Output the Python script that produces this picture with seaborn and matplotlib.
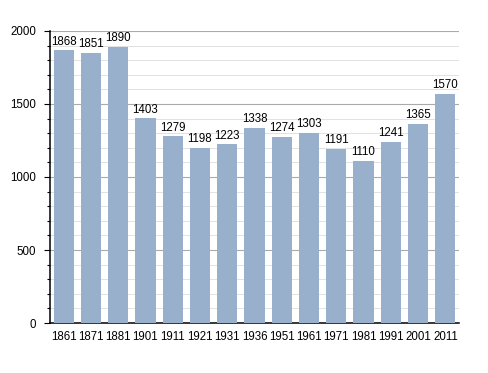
import pandas as pd
import matplotlib
matplotlib.use("Agg")
import matplotlib.pyplot as plt
import seaborn as sns
from matplotlib.ticker import MultipleLocator

# Data
years = ["1861", "1871", "1881", "1901", "1911", "1921", "1931", "1936",
         "1951", "1961", "1971", "1981", "1991", "2001", "2011"]
population = [1868, 1851, 1890, 1403, 1279, 1198, 1223, 1338,
              1274, 1303, 1191, 1110, 1241, 1365, 1570]

df = pd.DataFrame({"year": years, "pop": population})

sns.set_style("white")
plt.rcParams['font.family'] = ['Liberation Sans', 'DejaVu Sans']
plt.rcParams['text.color'] = 'black'
plt.rcParams['xtick.color'] = 'black'
plt.rcParams['ytick.color'] = 'black'

fig = plt.figure(figsize=(4.88, 3.73), dpi=100)
ax = fig.add_axes([0.1025, 0.134, 0.838, 0.783])

sns.barplot(data=df, x="year", y="pop", color="#98b0cc", saturation=1,
            width=0.74, linewidth=0, ax=ax, zorder=3)

# value labels
for i, v in enumerate(population):
    ax.text(i, v + 18, str(v), ha="center", va="bottom", fontsize=8.3,
            color="black", zorder=4)

ax.set_ylim(0, 2000)
ax.set_xlim(-0.5, len(years) - 0.5)
ax.yaxis.set_major_locator(MultipleLocator(500))
ax.yaxis.set_minor_locator(MultipleLocator(100))
ax.grid(which="major", axis="y", color="#aaaaaa", linewidth=0.8, zorder=0)
ax.grid(which="minor", axis="y", color="#e2e2e2", linewidth=0.7, zorder=0)
ax.set_axisbelow(True)

for s in ["top", "right"]:
    ax.spines[s].set_visible(False)
ax.spines["left"].set_color("black")
ax.spines["bottom"].set_color("black")
ax.spines["left"].set_linewidth(1.1)
ax.spines["bottom"].set_linewidth(1.1)

ax.tick_params(axis="y", which="major", left=True, length=4, width=0.8, labelsize=8.3, pad=6)
ax.tick_params(axis="y", which="minor", left=True, length=2.5, width=0.8)
ax.tick_params(axis="x", bottom=False, labelsize=8.3, pad=2)
ax.set_xlabel("")
ax.set_ylabel("")

fig.savefig("out.png", dpi=100)
